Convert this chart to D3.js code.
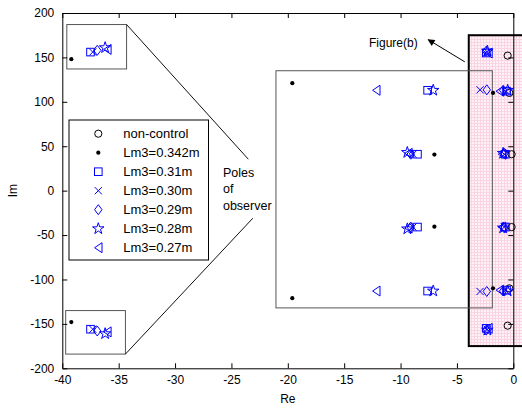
<!DOCTYPE html>
<html><head><meta charset="utf-8">
<script src="https://cdn.jsdelivr.net/npm/d3@7"></script>
<style>
html,body{margin:0;padding:0;background:#fff;}
svg{display:block;font-family:"Liberation Sans",Arial,sans-serif;}
</style></head>
<body><svg id="chart" width="522" height="410"></svg>
<script>
// ---------- data ----------
const xTicks = [-40,-35,-30,-25,-20,-15,-10,-5,0];
const yTicks = [-200,-150,-100,-50,0,50,100,150,200];
const legendLabels = ["non-control","Lm3=0.342m","Lm3=0.31m","Lm3=0.30m","Lm3=0.29m","Lm3=0.28m","Lm3=0.27m"];

const nonControlRe = [-0.5,-0.5,-0.35,-0.35,-0.15,-0.15];
const nonControlIm = [152,-152,110,-110,41,-41];

const lm0342Re = [-39.2,-39.2,-19.6,-19.6,-7.0,-7.0,-1.8,-1.8];
const lm0342Im = [148,-148,121,-121,40.6,-40.6,110,-110];

const lm031Re = [-37.5,-37.5,-7.6,-7.6,-8.5,-8.5,-2.4,-2.4,-0.6,-0.6,-0.7,-0.7];
const lm031Im = [156,-156,113,-113,41,-41,155,-155,112,-112,41,-41];

const lm030Re = [-37.3,-37.3,-8.9,-8.9,-2.95,-2.95,-2.3,-2.3,-0.7,-0.7,-0.8,-0.8];
const lm030Im = [156,-156,41,-41,113.5,-113.5,156,-156,112,-112,41,-41];

const lm029Re = [-36.9,-36.9,-9.1,-9.1,-2.35,-2.35,-2.4,-2.4,-0.9,-0.9,-0.8,-0.8];
const lm029Im = [158,-158,41,-41,113.5,-113.5,157,-157,113,-113,42,-42];

const lm028Re = [-36.2,-36.2,-7.1,-7.1,-9.4,-9.4,-2.3,-2.3,-0.5,-0.5,-0.9,-0.9];
const lm028Im = [161,-161,113,-113,43,-43,157,-157,113,-113,42,-42];

const lm027Re = [-36.0,-36.0,-12.15,-12.15,-9.3,-9.3,-2.2,-2.2,-1.2,-1.2,-1.0,-1.0];
const lm027Im = [159,-159,113,-113,42,-42,155,-155,112,-112,41,-41];

// annotation boxes in data units [x0,x1,y0,y1]
const insetTop = [-39.6,-34.3,137,187];
const insetBottom = [-39.7,-34.4,-184,-135];
const observerBox = [-21.05,-1.86,-132,135];
const figBBox = [-3.95,1.2,-175,175];
const leaderLines = [[[-34.3,187],[-23.5,35.4]],[[-34.4,-184],[-23.1,-31]]];
const arrowLine = [[-4.3,145],[-7.55,170]];
const observerText = ["Poles","of","observer"];
const observerTextPos = [-25.75, 15.4, 18.5]; // x, first baseline y, step (im units)
const figureText = "Figure(b)";
const figureTextPos = [-12.8, 162];

// ---------- scales ----------
const svg = d3.select("#chart");
const x = d3.scaleLinear().domain([-40,0]).range([62.3,513.3]);
const y = d3.scaleLinear().domain([-200,200]).range([368.3,13]);
const X0 = x.range()[0], X1 = x.range()[1], Y0 = y.range()[1], Y1 = y.range()[0];

// pink pattern
const defs = svg.append("defs");
const pat = defs.append("pattern").attr("id","pinkgrid").attr("patternUnits","userSpaceOnUse")
  .attr("width",3).attr("height",3);
pat.append("rect").attr("width",3).attr("height",3).attr("fill","#fef2f7");
pat.append("rect").attr("width",3).attr("height",1).attr("fill","#f9d4e3");
pat.append("rect").attr("width",1).attr("height",3).attr("fill","#f9d4e3");

// Figure(b) box
svg.append("rect")
  .attr("x",x(figBBox[0])).attr("y",y(figBBox[3]))
  .attr("width",x(figBBox[1])-x(figBBox[0])).attr("height",y(figBBox[2])-y(figBBox[3]))
  .attr("fill","url(#pinkgrid)").attr("stroke","#000").attr("stroke-width",2);

// grey boxes
function box(b, col){
  svg.append("rect")
    .attr("x",x(b[0])).attr("y",y(b[3]))
    .attr("width",x(b[1])-x(b[0])).attr("height",y(b[2])-y(b[3]))
    .attr("fill","none").attr("stroke",col).attr("stroke-width",1);
}
box(insetTop,"#555"); box(insetBottom,"#555"); box(observerBox,"#555");

leaderLines.forEach(l=>{
  svg.append("line").attr("x1",x(l[0][0])).attr("y1",y(l[0][1]))
    .attr("x2",x(l[1][0])).attr("y2",y(l[1][1])).attr("stroke","#111").attr("stroke-width",1);
});

// arrow
defs.append("marker").attr("id","arrowhead").attr("viewBox","0 0 10 10").attr("refX",9).attr("refY",5)
  .attr("markerWidth",9).attr("markerHeight",7).attr("markerUnits","userSpaceOnUse").attr("orient","auto")
  .append("path").attr("d","M0,0 L10,5 L0,10 z").attr("fill","#000");
svg.append("line").attr("x1",x(arrowLine[0][0])).attr("y1",y(arrowLine[0][1]))
  .attr("x2",x(arrowLine[1][0])).attr("y2",y(arrowLine[1][1]))
  .attr("stroke","#000").attr("stroke-width",1).attr("marker-end","url(#arrowhead)");

svg.append("text").attr("x",x(figureTextPos[0])).attr("y",y(figureTextPos[1]))
  .attr("font-size",12).attr("fill","#000").text(figureText);

observerText.forEach((t,i)=>{
  svg.append("text").attr("x",x(observerTextPos[0]))
    .attr("y",y(observerTextPos[1]-i*observerTextPos[2]))
    .attr("font-size",12.5).attr("fill","#000").text(t);
});

// ---------- marker shapes ----------
function starPath(R){
  const r = R*0.382; let p="";
  for(let i=0;i<10;i++){
    const a = -Math.PI/2 + i*Math.PI/5; const rr = i%2===0?R:r;
    p += (i?"L":"M") + (rr*Math.cos(a)).toFixed(2)+","+(rr*Math.sin(a)).toFixed(2);
  }
  return p+"Z";
}
const shapes = {
  circle: g=>g.append("circle").attr("r",3.6).attr("fill","none").attr("stroke","#000"),
  dot: g=>g.append("circle").attr("r",2.1).attr("fill","#000"),
  square: g=>g.append("rect").attr("x",-3.8).attr("y",-3.8).attr("width",7.6).attr("height",7.6).attr("fill","none").attr("stroke","#0000ff"),
  cross: g=>g.append("path").attr("d","M-3.6,-3.6L3.6,3.6M-3.6,3.6L3.6,-3.6").attr("fill","none").attr("stroke","#0000ff"),
  diamond: g=>g.append("path").attr("d","M0,-5L3.7,0L0,5L-3.7,0Z").attr("fill","none").attr("stroke","#0000ff"),
  star: g=>g.append("path").attr("d",starPath(6)).attr("fill","none").attr("stroke","#0000ff"),
  triangle: g=>g.append("path").attr("d","M-3.7,0L3.7,-5L3.7,5Z").attr("fill","none").attr("stroke","#0000ff")
};
const series = [
  {re:nonControlRe, im:nonControlIm, shape:"circle"},
  {re:lm0342Re, im:lm0342Im, shape:"dot"},
  {re:lm031Re, im:lm031Im, shape:"square"},
  {re:lm030Re, im:lm030Im, shape:"cross"},
  {re:lm029Re, im:lm029Im, shape:"diamond"},
  {re:lm028Re, im:lm028Im, shape:"star"},
  {re:lm027Re, im:lm027Im, shape:"triangle"}
];
const dataG = svg.append("g");
series.forEach(s=>{
  s.re.forEach((r,i)=>{
    const g = dataG.append("g").attr("transform",`translate(${x(r)},${y(s.im[i])})`);
    shapes[s.shape](g);
  });
});

// ---------- axes ----------
const axB = svg.append("g").attr("transform",`translate(0,${Y1})`)
  .call(d3.axisBottom(x).tickValues(xTicks).tickSizeInner(-5).tickSizeOuter(0).tickPadding(7));
const axL = svg.append("g").attr("transform",`translate(${X0},0)`)
  .call(d3.axisLeft(y).tickValues(yTicks).tickSizeInner(-5).tickSizeOuter(0).tickPadding(8));
const axT = svg.append("g").attr("transform",`translate(0,${Y0})`)
  .call(d3.axisTop(x).tickValues(xTicks).tickSizeInner(-5).tickSizeOuter(0).tickFormat(""));
const axR = svg.append("g").attr("transform",`translate(${X1},0)`)
  .call(d3.axisRight(y).tickValues(yTicks).tickSizeInner(-5).tickSizeOuter(0).tickFormat(""));
[axB,axL,axT,axR].forEach(a=>{
  a.selectAll("path.domain").attr("stroke","#000").attr("stroke-width",1);
  a.selectAll(".tick line").attr("stroke","#000");
  a.selectAll("text").attr("font-size",12).attr("fill","#000")
    .attr("font-family","'Liberation Sans',Arial,sans-serif");
});
axB.selectAll(".tick text").text(d=>d);
axL.selectAll(".tick text").text(d=>d);

svg.append("text").attr("x",(X0+X1)/2).attr("y",403).attr("text-anchor","middle")
  .attr("font-size",12).text("Re");
svg.append("text").attr("transform",`translate(17,${(Y0+Y1)/2}) rotate(-90)`).attr("text-anchor","middle")
  .attr("font-size",12).text("Im");

// ---------- legend ----------
const lg = svg.append("g");
lg.append("rect").attr("x",69).attr("y",120).attr("width",139.5).attr("height",140)
  .attr("fill","#fff").attr("stroke","#000").attr("stroke-width",1);
legendLabels.forEach((lab,i)=>{
  const cy = 133.7 + i*19;
  const g = lg.append("g").attr("transform",`translate(98.3,${cy})`);
  shapes[series[i].shape](g);
  lg.append("text").attr("x",123.3).attr("y",cy).attr("dy","0.36em")
    .attr("font-size",13).attr("fill","#000").text(lab);
});
</script></body></html>
